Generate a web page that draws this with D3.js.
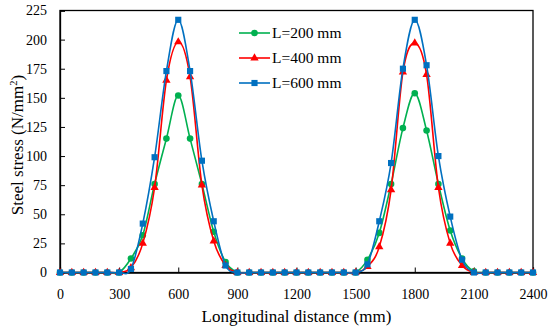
<!DOCTYPE html>
<html>
<head>
  <meta charset="utf-8" />
  <title>Steel stress</title>
  <script src="https://d3js.org/d3.v7.min.js"></script>
</head>
<body>
  <div id='graph'></div>
</body>
<style>
  body { margin: 0; background: #fff; }
  svg text { font-family: 'Liberation Serif', 'DejaVu Serif', serif; fill: #000; }
</style>
<script>
  // distance along the bar, every 60 mm
  var distance = d3.range(0, 2401, 60)

  var seriesNames = ['L=200 mm', 'L=400 mm', 'L=600 mm']
  var seriesColors = ['#00b050', '#ff0000', '#0070c0']

  var stress200 = [0,0,0,0,0,0,12,32,76,115,152,115,76,35,9,0,0,0,0,0,0,0,0,0,0,0,11,34,76,124,154,122,76,36,12,1,0,0,0,0,0]
  var stress400 = [0,0,0,0,0,0,4,25,73,165,198,168,75,27,6,0,0,0,0,0,0,0,0,0,0,0,5,22,71,172,197,170,73,25,6,0,0,0,0,0,0]
  var stress600 = [0,0,0,0,0,0,3,42,99,173,217,173,96,44,6,0,0,0,0,0,0,0,0,0,0,0,7,44,94,175,217,178,100,48,11,0,0,0,0,0,0]

  var xTicks = [0,300,600,900,1200,1500,1800,2100,2400]
  var yTicks = [0,25,50,75,100,125,150,175,200,225]

  var margin = {top: 10.5, right: 17, bottom: 57.5, left: 60}
  var width = 550 - margin.left - margin.right
  var height = 330 - margin.top - margin.bottom

  const svg = d3.select('#graph').append('svg')
    .attr('width', 550)
    .attr('height', 330)

  const g = svg.append('g')
    .attr('transform', 'translate(' + margin.left + ',' + margin.top + ')')

  var xScale = d3.scaleLinear().domain([0, 2400]).range([0, width])
  var yScale = d3.scaleLinear().domain([0, 225]).range([height, 0])

  // frame
  g.append('rect')
    .attr('width', width)
    .attr('height', height)
    .attr('fill', 'none')
    .attr('stroke', '#000')
    .attr('stroke-width', 1.3)

  const xAxis = g.append('g')
    .attr('transform', 'translate(0,' + height + ')')
    .call(d3.axisBottom(xScale).tickValues(xTicks).tickFormat(d3.format('d')).tickSize(-5).tickPadding(17))
  xAxis.select('.domain').attr('stroke-width', 1.3)
  xAxis.selectAll('text').attr('font-size', 14).attr('font-family', null)

  const yAxis = g.append('g')
    .call(d3.axisLeft(yScale).tickValues(yTicks).tickFormat(d3.format('d')).tickSize(-5).tickPadding(13))
  yAxis.select('.domain').attr('stroke-width', 1.3)
  yAxis.selectAll('text').attr('font-size', 14).attr('font-family', null)

  svg.append('text')
    .attr('x', margin.left + width / 2)
    .attr('y', 322)
    .attr('text-anchor', 'middle')
    .attr('font-size', 17)
    .text('Longitudinal distance (mm)')

  const yTitle = svg.append('text')
    .attr('transform', 'translate(23,145) rotate(-90)')
    .attr('text-anchor', 'middle')
    .attr('font-size', 17)
  yTitle.append('tspan').text('Steel stress (N/mm')
  yTitle.append('tspan').attr('font-size', 10.5).attr('dy', -6).text('2')
  yTitle.append('tspan').attr('dy', 6).text(')')

  var allSeries = [stress200, stress400, stress600]
  var symbols = [d3.symbolCircle, d3.symbolTriangle, d3.symbolSquare]
  var symbolSizes = [34, 30, 38]

  var line = d3.line()
    .x(function (d, i) { return xScale(distance[i]) })
    .y(function (d) { return yScale(d) })
    .curve(d3.curveCatmullRom.alpha(0))

  allSeries.forEach(function (values, k) {
    g.append('path')
      .datum(values)
      .attr('fill', 'none')
      .attr('stroke', seriesColors[k])
      .attr('stroke-width', 1.6)
      .attr('d', line)

    g.selectAll('.mark' + k)
      .data(values)
      .enter()
      .append('path')
      .attr('class', 'mark' + k)
      .attr('d', d3.symbol().type(symbols[k]).size(symbolSizes[k]))
      .attr('fill', seriesColors[k])
      .attr('transform', function (d, i) {
        return 'translate(' + xScale(distance[i]) + ',' + yScale(d) + ')'
      })
  })

  // legend
  const legend = svg.append('g').attr('transform', 'translate(239,33)')
  seriesNames.forEach(function (name, k) {
    var row = legend.append('g').attr('transform', 'translate(0,' + (k * 25) + ')')
    row.append('line')
      .attr('x1', 0).attr('x2', 31)
      .attr('stroke', seriesColors[k])
      .attr('stroke-width', 1.6)
    row.append('path')
      .attr('d', d3.symbol().type(symbols[k]).size(symbolSizes[k]))
      .attr('fill', seriesColors[k])
      .attr('transform', 'translate(15.5,0)')
    row.append('text')
      .attr('x', 33)
      .attr('y', 5)
      .attr('font-size', 15.5)
      .text(name)
  })
</script>
</html>
